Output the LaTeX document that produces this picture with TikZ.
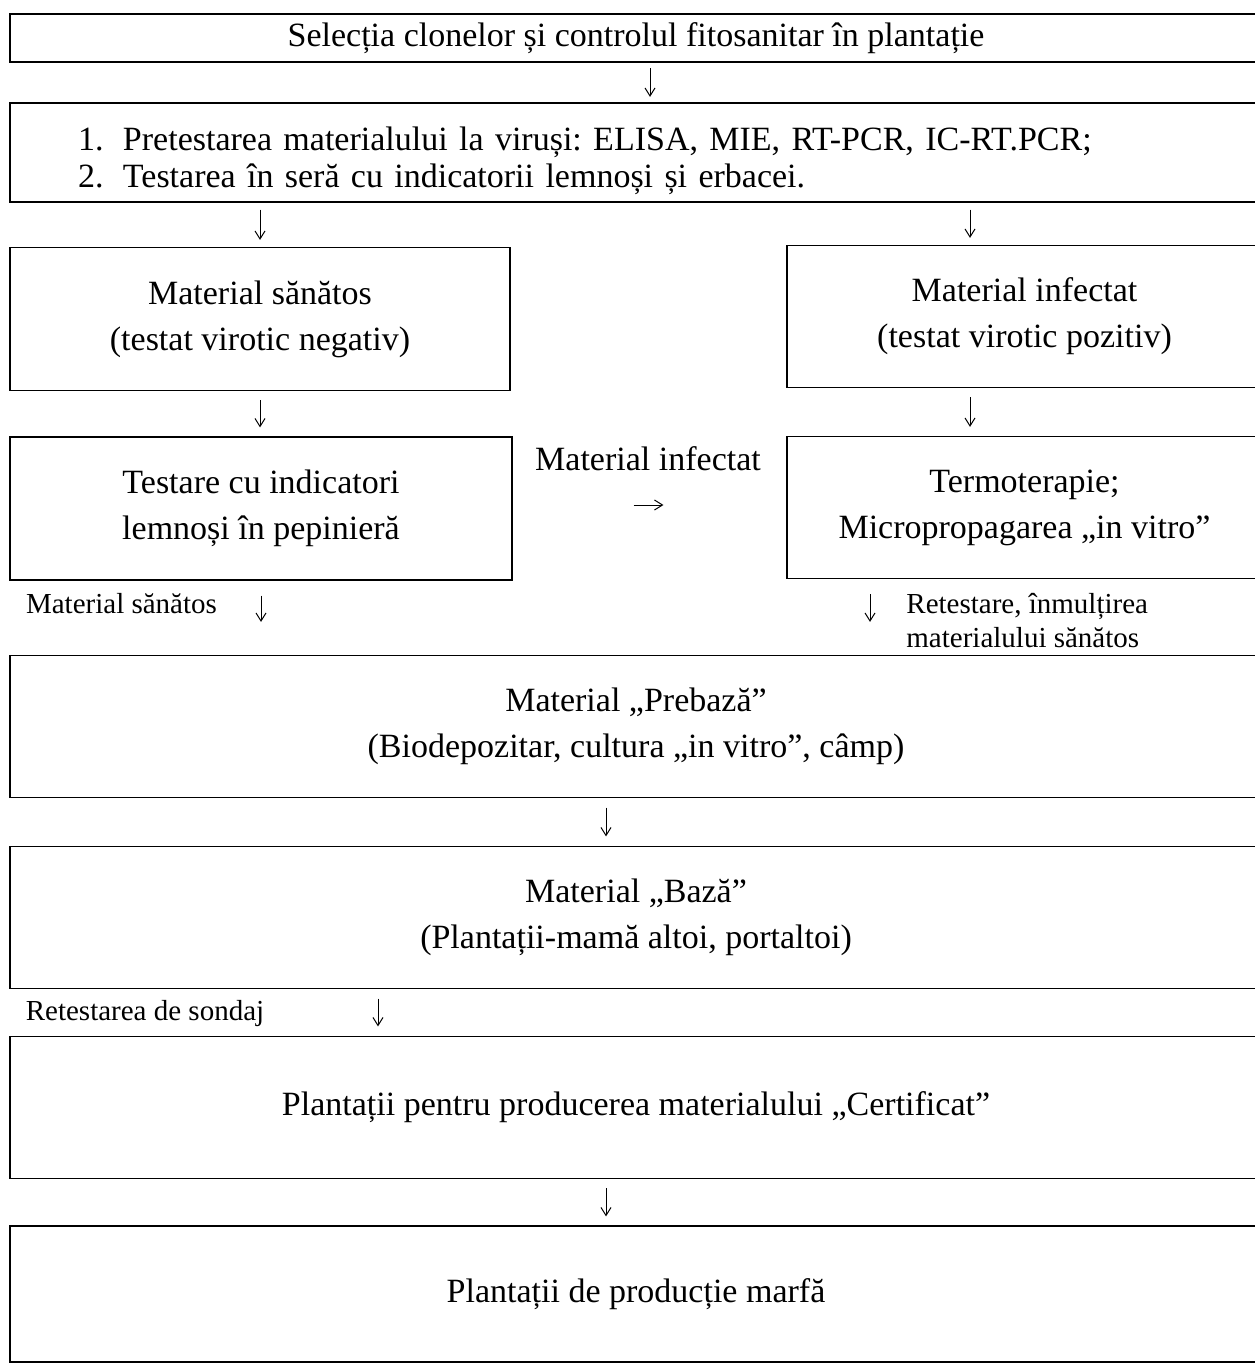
\documentclass[tikz,border=0pt]{standalone}
\usepackage{fontspec}
\setmainfont{Liberation Serif}
\frenchspacing
\usetikzlibrary{positioning, arrows.meta, calc}

\begin{document}
\begin{tikzpicture}[
        x=0.5pt, y=-0.5pt,
        every node/.style={text centered, font=\fontsize{17}{23}\selectfont},
        boxw/.style={draw, line width=0.6pt, rectangle, minimum width=626pt, minimum height=71pt, align=center},
        boxl/.style={draw, line width=0.6pt, rectangle, minimum width=250pt, minimum height=71.5pt, align=center},
        boxr/.style={draw, line width=0.6pt, rectangle, minimum width=237.5pt, minimum height=71pt, align=center},
        arr/.style={-{Straight Barb[length=4pt, width=5pt]}, line width=0.5pt, shorten <=4pt, shorten >=4pt},
        note/.style={font=\fontsize{14.5}{17}\selectfont, inner sep=0}
    ]
        \useasboundingbox (0, 0) rectangle (1254, 1364);

        % Row 1
        \node[boxw, minimum height=24pt] (sel) at (636, 38) {Selecția clonelor și controlul fitosanitar în plantație};

        % Row 2
        \node[boxw, minimum height=49.5pt, text width=558pt, inner xsep=34pt, align=left,
              font=\fontsize{17}{18.5}\selectfont] (pretest) at (636, 152.5)
            {\rule{0pt}{20pt}\makebox[22.5pt][l]{1.}Pretestarea materialului la viruși: ELISA, MIE, RT-PCR, IC-RT.PCR;\\
             \makebox[22.5pt][l]{2.}Testarea în seră cu indicatorii lemnoși și erbacei.\vphantom{g}};

        % Row 3
        \node[boxl] (sanatos) at (260, 319) {Material sănătos\\(testat virotic negativ)};
        \node[boxr] (infectat) at (1024.5, 316.5) {Material infectat\\(testat virotic pozitiv)};

        % Row 4
        \node[boxl, minimum width=251pt] (testare) at (261, 508.5) {Testare cu indicatori\\lemnoși în pepinieră};
        \node[boxr] (termo) at (1024.5, 507.5) {Termoterapie;\\Micropropagarea „in vitro”};
        \node (lblinf) at (648, 459) {Material infectat};

        % Row 5 - 8
        \node[boxw] (prebaza) at (636, 726.5) {Material „Prebază”\\(Biodepozitar, cultura „in vitro”, câmp)};
        \node[boxw] (baza) at (636, 917.5) {Material „Bază”\\(Plantații-mamă altoi, portaltoi)};
        \node[boxw] (certif) at (636, 1107.5) {Plantații pentru producerea materialului „Certificat”};
        \node[boxw, minimum height=68pt] (marfa) at (636, 1294) {Plantații de producție marfă};

        % Arrows
        \draw[arr, shorten <=2.75pt, shorten >=2.75pt] ([xshift=7pt]sel.south) -- ([xshift=7pt]sel.south |- pretest.north);
        \draw[arr, shorten <=3.5pt, shorten >=3.5pt] (sanatos.north |- pretest.south) -- (sanatos.north);
        \draw[arr, shorten <=3.5pt, shorten >=3.5pt] ([xshift=-27.25pt]infectat.north |- pretest.south) -- ([xshift=-27.25pt]infectat.north);
        \draw[arr, shorten <=4.5pt, shorten >=4.5pt] (sanatos.south) -- (sanatos.south |- testare.north);
        \draw[arr, shorten <=4.5pt, shorten >=4.5pt] ([xshift=-27.25pt]infectat.south) -- ([xshift=-27.25pt]infectat.south |- termo.north);
        \draw[arr, shorten <=60.5pt, shorten >=61.5pt] ([yshift=1.75pt]testare.east) -- ([yshift=1.75pt]testare.east -| termo.west);
        \draw[arr, shorten <=7.5pt, shorten >=16.5pt] (testare.south) -- (testare.south |- prebaza.north);
        \draw[arr, shorten <=7.5pt, shorten >=16.5pt] ([xshift=-77.25pt]termo.south) -- ([xshift=-77.25pt]termo.south |- prebaza.north);
        \draw[arr, shorten <=4.75pt, shorten >=4.75pt] ([xshift=-15pt]prebaza.south) -- ([xshift=-15pt]baza.north);
        \draw[arr, shorten <=4.75pt, shorten >=4.75pt] ([xshift=-129pt]baza.south) -- ([xshift=-129pt]certif.north);
        \draw[arr, shorten <=4.5pt, shorten >=4.5pt] ([xshift=-15pt]certif.south) -- ([xshift=-15pt]marfa.north);

        % Side notes
        \node[note] (notesan) at (121.5, 604) {Material sănătos};
        \node[note, anchor=west, align=left] (noteret) at (906, 621) {Retestare, înmulțirea\\materialului sănătos};
        \node[note] (notesond) at (145, 1014) {Retestarea de sondaj};
    \end{tikzpicture}
\end{document}
